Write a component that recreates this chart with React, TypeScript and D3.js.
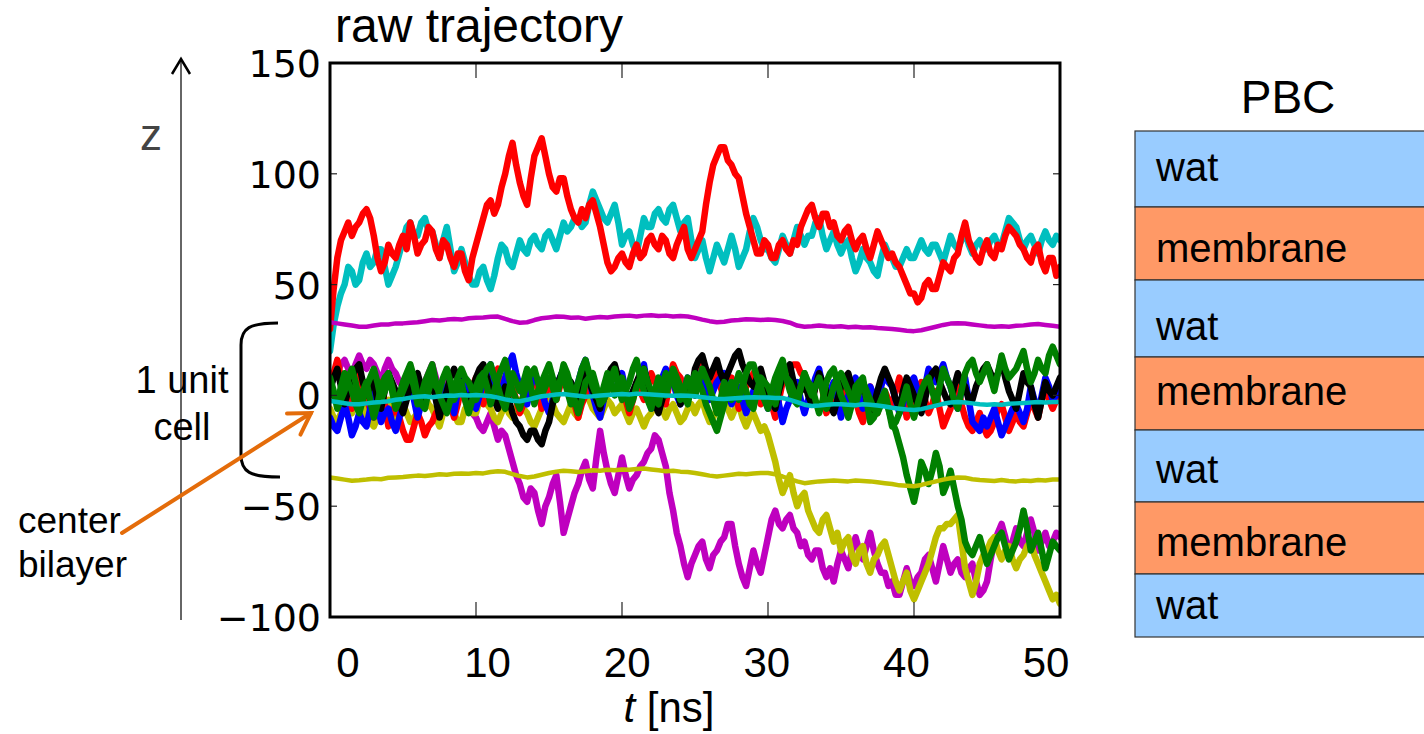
import * as d3 from 'd3';

// all trajectories run from t = 0 to t = 50 ns; the noisy ones are saved every
// 0.25 ns, the smoothed reference lines every 0.5 ns
const T_END = 50;

const redHigh = [
  30, 48, 62, 70, 74, 78, 72, 76, 78, 82, 84, 80, 72, 62, 56, 60, 68, 64, 62, 68,
  72, 66, 78, 72, 64, 68, 70, 76, 74, 66, 62, 70, 68, 62, 58, 64, 64, 56, 52, 62,
  68, 74, 80, 86, 88, 82, 86, 94, 100, 108, 114, 104, 96, 90, 86, 98, 108, 112, 116, 108,
  100, 94, 92, 98, 98, 90, 84, 80, 78, 84, 80, 86, 88, 82, 76, 68, 60, 56, 58, 62,
  64, 60, 58, 64, 68, 62, 64, 70, 72, 68, 66, 72, 70, 64, 62, 68, 72, 76, 66, 62,
  66, 70, 74, 86, 96, 104, 108, 112, 112, 106, 104, 100, 98, 90, 82, 76, 70, 64, 64, 70,
  68, 62, 62, 68, 70, 66, 64, 70, 68, 76, 80, 84, 86, 80, 76, 82, 82, 76, 78, 72,
  70, 74, 76, 70, 66, 70, 72, 66, 62, 68, 74, 70, 66, 62, 64, 60, 58, 54, 50, 46,
  46, 42, 44, 50, 52, 48, 48, 54, 60, 58, 56, 62, 64, 72, 78, 70, 66, 62, 60, 66,
  70, 64, 62, 68, 66, 72, 76, 74, 72, 68, 66, 62, 60, 66, 68, 60, 56, 62, 62, 54,
  58,
];

const cyanHigh = [
  20, 32, 40, 46, 50, 58, 56, 50, 52, 60, 64, 58, 60, 66, 66, 58, 50, 54, 58, 64,
  70, 76, 78, 72, 72, 78, 80, 74, 74, 68, 62, 70, 76, 66, 56, 60, 66, 60, 54, 50,
  50, 56, 58, 52, 48, 54, 62, 68, 66, 60, 58, 64, 70, 66, 64, 70, 72, 68, 66, 72,
  74, 70, 66, 72, 78, 74, 76, 80, 80, 76, 78, 86, 92, 88, 84, 80, 78, 82, 86, 78,
  68, 72, 74, 68, 64, 72, 80, 76, 76, 82, 84, 80, 78, 84, 86, 80, 74, 78, 80, 70,
  62, 66, 70, 62, 56, 62, 68, 64, 60, 66, 72, 66, 58, 62, 66, 74, 80, 76, 70, 66,
  66, 62, 60, 66, 72, 68, 64, 70, 76, 72, 68, 72, 72, 78, 80, 72, 66, 70, 74, 68,
  64, 68, 70, 62, 56, 60, 66, 62, 60, 56, 54, 62, 68, 64, 62, 58, 58, 62, 66, 62,
  62, 66, 70, 66, 64, 68, 68, 64, 60, 66, 72, 68, 66, 70, 74, 68, 64, 68, 70, 66,
  66, 70, 72, 68, 68, 74, 80, 78, 76, 70, 66, 70, 72, 68, 64, 70, 74, 70, 68, 72,
  70,
];

const magentaNoisy = [
  4, 8, 10, 14, 16, 12, 8, 14, 18, 14, 12, 16, 14, 10, 6, 12, 16, 12, 10, 6,
  4, 2, 8, 4, -2, 2, 6, 10, 14, 8, 2, 6, 8, 2, -4, 0, 2, -2, -6, -8,
  -10, -14, -16, -12, -8, -14, -20, -16, -18, -24, -30, -36, -40, -46, -48, -42, -44, -52, -58, -50,
  -46, -40, -36, -48, -62, -56, -50, -44, -40, -34, -30, -38, -42, -28, -16, -26, -34, -40, -44, -36,
  -28, -36, -42, -38, -36, -32, -30, -26, -24, -18, -20, -26, -32, -44, -52, -62, -68, -76, -82, -76,
  -72, -68, -66, -74, -78, -72, -70, -66, -64, -58, -58, -68, -76, -82, -86, -78, -70, -76, -80, -72,
  -64, -56, -52, -58, -60, -56, -54, -60, -62, -68, -66, -72, -74, -70, -70, -78, -82, -78, -84, -76,
  -70, -74, -78, -70, -64, -70, -74, -68, -62, -70, -76, -80, -80, -86, -84, -90, -90, -84, -78, -84,
  -86, -82, -80, -74, -72, -78, -84, -76, -68, -74, -80, -76, -74, -80, -82, -78, -76, -84, -90, -88,
  -84, -74, -66, -62, -58, -64, -72, -66, -60, -66, -68, -62, -56, -62, -70, -66, -62, -68, -66, -62,
  -64,
];

const yellowNoisy = [
  -6, -10, -12, -8, -4, -6, -8, -2, 2, -4, -10, -12, -14, -10, -6, -4, -2, -8, -10, -6,
  -4, -8, -12, -10, -8, -2, 0, -4, -6, -10, -14, -8, -2, -6, -8, -12, -12, -6, -4, -8,
  -8, -2, 2, -4, -6, -10, -12, -8, -4, -8, -10, -6, -2, -6, -8, -12, -14, -10, -6, -2,
  0, -4, -8, -10, -12, -8, -4, -8, -10, -2, 4, -2, -6, -8, -10, -6, -2, -4, -8, -6,
  -4, -8, -12, -8, -6, -10, -14, -10, -8, -4, -2, -6, -10, -6, -4, -8, -12, -10, -6, -4,
  -8, -4, -2, -8, -12, -10, -6, -2, 0, -6, -10, -6, -4, -10, -14, -10, -8, -12, -16, -14,
  -18, -24, -30, -38, -44, -40, -36, -44, -50, -46, -44, -52, -56, -60, -62, -56, -54, -60, -66, -62,
  -70, -66, -64, -72, -76, -70, -68, -76, -80, -74, -72, -68, -66, -72, -78, -84, -88, -84, -80, -88,
  -92, -88, -84, -80, -76, -70, -64, -60, -60, -58, -58, -56, -54, -66, -78, -84, -90, -84, -76, -72,
  -70, -66, -64, -70, -74, -70, -68, -74, -78, -74, -72, -68, -66, -72, -76, -80, -84, -88, -92, -90,
  -94,
];

const greenDrop = [
  6, 0, -4, 4, 10, 6, 2, -4, -8, -2, 4, 8, 12, 6, -2, 2, 8, 2, -6, -2,
  2, 6, 10, 4, -4, 0, 6, 10, 14, 6, 0, -4, -8, -2, 4, 8, 12, 8, 6, 2,
  -2, 2, 8, 12, 14, 8, 4, -2, -6, 2, 10, 6, 2, 6, 12, 4, -4, 2, 6, 10,
  14, 8, 2, 6, 8, 2, -4, 0, 6, 12, 16, 10, 4, 0, -2, 4, 10, 6, 0, 4,
  8, 2, -6, -2, 4, 8, 12, 6, 2, -2, -4, 4, 10, 8, 6, 2, -2, 2, 8, 4,
  0, 6, 12, 8, 4, -2, -8, -2, 6, 2, -2, 4, 10, 6, 2, -4, -6, 2, 8, 6,
  4, 0, -4, 4, 12, 8, 6, 2, -2, 4, 10, 4, 0, 4, 8, 2, -6, -2, 4, 8,
  10, 6, 2, -2, -4, 2, 6, 2, -2, -6, -8, -4, 0, -6, -12, -16, -22, -28, -36, -42,
  -48, -40, -30, -34, -40, -34, -26, -32, -44, -40, -34, -42, -50, -56, -66, -70, -72, -68, -64, -70,
  -76, -72, -68, -64, -62, -68, -74, -70, -66, -60, -52, -60, -70, -66, -62, -70, -78, -72, -66, -68,
  -70,
];

const greenMain = [
  8, 2, -6, -2, 2, 8, 12, 6, -2, 2, 6, -2, -10, -4, 4, 8, 10, 4, -4, 0,
  6, 10, 14, 8, 0, -4, -6, 2, 8, 4, 2, 8, 12, 6, -2, 2, 6, -2, -8, -2,
  4, 8, 10, 4, -4, 2, 8, 12, 16, 8, 2, -2, -6, 0, 6, 10, 12, 6, 0, 4,
  8, 4, -2, 6, 14, 10, 4, -2, -8, -2, 6, 8, 10, 4, -4, -2, 2, 8, 12, 4,
  -2, 2, 6, 12, 16, 8, 2, -2, -6, 2, 8, 4, 0, 6, 12, 8, 4, 0, -4, 4,
  10, 6, 2, -4, -8, -12, -16, -10, -4, 2, 6, 2, -2, 4, 10, 14, 14, 8, 4, -2,
  -6, 2, 8, 12, 16, 8, 2, -2, -4, 4, 10, 6, 4, -2, -8, -2, 6, 10, 12, 6,
  0, -4, -10, -4, 4, 6, 8, -2, -12, -10, -6, -2, 2, -6, -14, -12, -8, -2, 4, -4,
  -10, -4, 2, 6, 8, 2, -4, 4, 12, 8, 4, -2, -6, 2, 10, 14, 16, 10, 6, 10,
  14, 8, 2, 10, 18, 12, 8, 10, 12, 16, 20, 12, 6, 10, 16, 12, 10, 18, 22, 18,
  14,
];

const blueMain = [
  -10, -14, -16, -10, -4, -10, -18, -14, -8, -12, -14, -6, 2, -4, -12, -8, -6, -12, -16, -10,
  -4, 2, 8, -2, -10, -4, 2, 8, 12, 4, -6, -2, 4, -2, -8, 2, 10, 4, 0, -4,
  -6, 0, 6, 10, 14, 6, -2, 2, 8, 14, 18, 10, 4, 0, -4, 4, 10, 6, 2, -4,
  -8, -2, 4, 8, 12, 4, -2, 2, 6, 12, 16, 8, 0, -6, -10, -2, 6, 4, 2, 6,
  10, 2, -4, 0, 4, 10, 14, 4, -6, -2, 2, 8, 12, 8, 6, 0, -4, 2, 8, 4,
  0, 6, 12, 4, -2, 2, 6, 8, 10, 2, -4, 0, 4, -2, -8, -4, 2, 6, 8, 0,
  -6, -2, 4, -4, -12, -6, -2, 2, 6, -2, -8, -2, 2, 8, 12, 4, -4, 2, 6, -2,
  -10, -4, 0, 4, 8, 0, -6, -2, 4, 0, -2, 4, 10, 6, 4, -2, -8, -4, 2, 6,
  8, 2, -4, 4, 12, 8, 6, 10, 14, 8, 4, -2, -6, 2, 8, -2, -12, -14, -16, -10,
  -14, -10, -6, -12, -18, -14, -10, -6, -4, -8, -12, -6, 4, -2, -8, 0, 8, 4, -2, 0,
  2,
];

const blackMain = [
  2, 8, 12, 4, -4, 2, 8, 12, 14, 6, 0, 4, 6, -2, -6, 2, 10, 6, 2, -4,
  -8, -2, 4, 8, 10, 4, -2, 2, 6, -2, -10, -4, 2, 8, 12, 8, 4, 0, -4, 2,
  8, 12, 14, 8, 2, -2, -6, 0, 4, -2, -8, -12, -14, -18, -20, -16, -16, -20, -22, -16,
  -12, -4, 4, 8, 12, 8, 6, 2, -2, 4, 10, 6, 2, -2, -6, 2, 8, 12, 14, 8,
  4, 0, -2, 2, 6, 10, 12, 6, 0, -4, -8, -2, 4, 8, 10, 4, -4, 0, 6, 2,
  12, 16, 18, 12, 8, 12, 16, 10, 6, 10, 14, 18, 20, 14, 10, 6, 4, 8, 12, 6,
  2, -2, -6, 2, 8, 12, 14, 6, 0, 2, 6, 0, -4, 4, 10, 6, 2, -4, -8, -2,
  4, 8, 10, 4, -2, 2, 6, -2, -8, -4, 2, 8, 12, 8, 4, -2, -6, 2, 8, 4,
  0, -4, -8, -2, 6, 10, 12, 6, 2, -2, -4, 4, 10, 6, 4, -2, -2, 4, 8, 12,
  14, 10, 6, 10, 16, 8, 2, -2, -6, 2, 10, 6, 4, -4, -10, -2, 6, 2, 0, 4,
  8,
];

const redLow = [
  4, 10, 16, 8, 2, -2, -6, 2, 10, 4, -2, -6, -10, -2, 6, -4, -14, -8, -4, -10,
  -16, -20, -20, -14, -8, -12, -18, -14, -12, -8, -6, -2, 2, -4, -10, -4, 4, 0, -2, 4,
  8, 2, -4, 2, 6, 10, 12, 4, -2, 0, 4, -2, -8, -4, 2, 6, 10, 2, -6, 0,
  6, 2, -2, 4, 10, 6, 4, -4, -10, -4, 0, 4, 8, 2, -6, -2, 2, 8, 12, 8,
  4, -2, -8, -2, 6, 2, -2, 4, 10, 6, 2, -2, -4, 6, 14, 10, 8, 4, 0, 2,
  6, 12, 16, 10, 4, 8, 12, 4, -2, 2, 8, 2, -6, -2, 4, 6, 10, 2, -4, -2,
  2, -4, -10, -2, 6, 10, 12, 14, 14, 10, 8, 2, -2, 4, 10, 2, -8, -4, 4, 0,
  -6, 0, 6, 2, -2, -8, -12, -4, 4, -2, -8, -2, 2, -2, -4, 2, 8, 0, -10, -6,
  -4, 2, 6, -2, -8, -4, 2, -6, -14, -10, -6, 0, 4, -4, -10, -14, -16, -12, -8, -14,
  -18, -16, -12, -6, -4, -10, -16, -12, -8, -12, -14, -8, -2, -6, -10, -2, 4, -2, -6, -2,
  0,
];

const magentaSmooth = [
  33, 32.5, 32, 31.5, 31, 31, 31.5, 32, 32, 32.5,
  32.5, 32.8, 33, 33.5, 34, 33.8, 34.2, 34.5, 34.2, 34.8,
  35, 35.2, 35.5, 35.6, 34.5, 33.5, 32.8, 33, 34, 34.8,
  35.2, 35.6, 35.5, 35, 35.2, 34.6, 35, 35.4, 35.2, 35.6,
  35.8, 36, 35.6, 36, 36.2, 35.8, 36, 35.6, 35.8, 35.6,
  35, 34.2, 33.5, 33, 33.2, 33.8, 34, 34.4, 34.2, 34,
  34.2, 34, 33.6, 32.8, 31.5, 31, 31.2, 31.5, 31.2, 31,
  31.2, 30.8, 31, 30.6, 30.8, 30.4, 30.2, 30, 29.6, 29.2,
  29, 29.4, 30.2, 31, 31.8, 32.4, 32.6, 32.4, 32, 31.6,
  31.2, 31, 31.2, 31, 31.4, 31.6, 32, 32.2, 31.8, 31.4,
  31,
];

const yellowSmooth = [
  -37, -37.5, -38, -38.5, -38.3, -38, -37.6, -37.8, -37.2, -37,
  -36.8, -36.5, -36.2, -36.4, -36, -35.6, -35.8, -35.4, -35.2, -35.4,
  -35, -35.2, -34.6, -34.2, -34.5, -35.5, -36.4, -37, -36.6, -35.8,
  -35, -34.4, -34, -34.2, -34.6, -34.2, -33.8, -34, -33.6, -33.8,
  -33.4, -33.6, -33.2, -33, -33.4, -33.8, -34.2, -34, -34.4, -34.6,
  -35, -35.6, -36.2, -36.6, -36.2, -35.8, -35.4, -35.6, -35.2, -35,
  -35, -35.6, -36.6, -37.8, -38.8, -39.6, -39.2, -38.8, -38.6, -38.4,
  -38.6, -38.8, -38.4, -38.6, -38.8, -39.2, -39.6, -40, -40.6, -40.8,
  -41, -40.4, -39.6, -38.8, -38, -37.4, -37, -37.2, -37.8, -38.2,
  -38.4, -38.6, -38.2, -38.6, -38.8, -38.4, -38.6, -38.2, -38.4, -38,
  -38,
];

const cyanSmooth = [
  -2.5, -3, -3.5, -4, -4, -3.6, -3.2, -3, -2.6, -2,
  -1.6, -1, -0.6, -0.4, -0.8, -0.4, 0, -0.2, 0.2, 0,
  0.2, 0, -0.4, -1, -1.8, -2.4, -2.6, -2, -1.2, -0.4,
  0, 0.4, 0.6, 0.2, -0.2, -0.6, -0.4, 0, 0.2, 0.4,
  0.6, 0.4, 0.8, 0.6, 0.4, 0.2, 0, -0.2, 0, -0.2,
  -0.4, -0.8, -1.2, -1.5, -1.6, -1.4, -1.2, -1, -0.8, -1,
  -1, -1.2, -1.2, -2, -3, -4.2, -4.8, -4.6, -4.2, -4,
  -4, -4.2, -4.4, -4, -4.2, -4.6, -5, -5.6, -6, -6.4,
  -6.6, -6.2, -5.4, -4.6, -3.8, -3.2, -3, -3.2, -3.6, -4,
  -4.2, -4, -4.2, -3.8, -3.6, -3.4, -3.2, -3, -3.2, -3,
  -3,
];

const xTicks = [0, 10, 20, 30, 40, 50];
const yTicks = [150, 100, 50, 0, -50, -100];
const pbcLayers = ['wat', 'membrane', 'wat', 'membrane', 'wat', 'membrane', 'wat'];

// drawing order: first is at the bottom
const series = [
  { values: magentaNoisy, color: '#bf00bf' },
  { values: yellowNoisy, color: '#bfbf00' },
  { values: redLow, color: '#ff0000' },
  { values: blueMain, color: '#0000ff' },
  { values: blackMain, color: '#000000' },
  { values: greenDrop, color: '#008000' },
  { values: greenMain, color: '#008000' },
  { values: cyanHigh, color: '#00bfbf' },
  { values: redHigh, color: '#ff0000' },
  { values: magentaSmooth, color: '#bf00bf' },
  { values: yellowSmooth, color: '#bfbf00' },
  { values: cyanSmooth, color: '#00bfbf' },
];

const SANS = '"Liberation Sans", Arial, sans-serif';
const DEJAVU = '"DejaVu Sans", sans-serif';

export default function App() {
  const plot = { left: 330, right: 1060, top: 63, bottom: 617 };

  const x = d3.scaleLinear().domain([0, T_END]).range([plot.left, plot.right]);
  const y = d3.scaleLinear().domain([-100, 150]).range([plot.bottom, plot.top]);
  // the x tick labels sit slightly off their ticks in the original figure
  const xLabel = d3.scaleLinear().domain([0, T_END]).range([348, 1046]);

  const lineFor = (values: number[]) => {
    const dt = T_END / (values.length - 1);
    return d3
      .line<number>()
      .x((_, i) => x(i * dt))
      .y((d) => y(d))(values);
  };

  // PBC column
  const layerEdges = [131, 207, 280, 357, 430, 502, 574, 637];
  const layerBaselines = [181, 262, 340, 405, 483, 556, 619];

  // orange arrow to the bilayer centre
  const arrowFrom: [number, number] = [122, 533];
  const arrowTo: [number, number] = [311, 413];
  const ang = Math.atan2(arrowTo[1] - arrowFrom[1], arrowTo[0] - arrowFrom[0]);
  const headLen = 24;
  const head = [ang + Math.PI - 0.55, ang + Math.PI + 0.55].map((a) => [
    arrowTo[0] + headLen * Math.cos(a),
    arrowTo[1] + headLen * Math.sin(a),
  ]);

  return (
    <svg
      width={1424}
      height={734}
      style={{ position: 'absolute', left: 0, top: 0, background: '#fff' }}
    >
      <defs>
        <clipPath id="plot-clip">
          <rect
            x={plot.left}
            y={plot.top}
            width={plot.right - plot.left}
            height={plot.bottom - plot.top}
          />
        </clipPath>
      </defs>

      {/* title */}
      <text x={335} y={42} fontFamily={SANS} fontSize={48} fill="#000">
        raw trajectory
      </text>

      {/* trajectories */}
      <g clipPath="url(#plot-clip)">
        {series.map((s, i) => (
          <path
            key={i}
            d={lineFor(s.values) ?? ''}
            fill="none"
            stroke={s.color}
            strokeWidth={s.values.length > 101 ? 6.5 : 4.5}
            strokeLinejoin="round"
            strokeLinecap="round"
          />
        ))}
      </g>

      {/* ticks, mirrored on all four sides */}
      <g stroke="#222" strokeWidth={1.2}>
        {xTicks.map((t) => (
          <g key={t}>
            <line x1={x(t)} x2={x(t)} y1={plot.bottom} y2={plot.bottom - 15} />
            <line x1={x(t)} x2={x(t)} y1={plot.top} y2={plot.top + 15} />
          </g>
        ))}
        {yTicks.map((v) => (
          <g key={v}>
            <line x1={plot.left} x2={plot.left + 7} y1={y(v)} y2={y(v)} />
            <line x1={plot.right} x2={plot.right - 7} y1={y(v)} y2={y(v)} />
          </g>
        ))}
      </g>

      {/* frame */}
      <rect
        x={plot.left}
        y={plot.top}
        width={plot.right - plot.left}
        height={plot.bottom - plot.top}
        fill="none"
        stroke="#000"
        strokeWidth={3}
      />

      {/* tick labels */}
      {yTicks.map((v) => (
        <text
          key={v}
          x={321}
          y={y(v) + 14}
          textAnchor="end"
          fontFamily={DEJAVU}
          fontSize={38}
          fill="#000"
        >
          {v < 0 ? `\u2212${Math.abs(v)}` : v}
        </text>
      ))}
      {xTicks.map((t) => (
        <text
          key={t}
          x={xLabel(t)}
          y={677}
          textAnchor="middle"
          fontFamily={SANS}
          fontSize={42}
          fill="#000"
        >
          {t}
        </text>
      ))}
      <text x={669} y={722} textAnchor="middle" fontFamily={SANS} fontSize={42} fill="#000">
        <tspan fontStyle="italic">t</tspan> [ns]
      </text>

      {/* z axis sketch */}
      <line x1={181} x2={181} y1={60} y2={620} stroke="#333" strokeWidth={1.5} />
      <path d="M172,74 L181,59 L190,74" fill="none" stroke="#000" strokeWidth={2.5} />
      <text x={151} y={150} textAnchor="middle" fontFamily={SANS} fontSize={44} fill="#444">
        z
      </text>

      {/* unit cell bracket */}
      <path
        d="M278,323 C250,323 241,328 241,345 L241,455 C241,472 250,477 280,477"
        fill="none"
        stroke="#000"
        strokeWidth={3}
      />
      <text x={182} y={393} textAnchor="middle" fontFamily={SANS} fontSize={38} fill="#000">
        1 unit
      </text>
      <text x={182} y={440} textAnchor="middle" fontFamily={SANS} fontSize={38} fill="#000">
        cell
      </text>

      {/* centre bilayer annotation */}
      <text x={18} y={533} fontFamily={SANS} fontSize={37} fill="#000">
        center
      </text>
      <text x={18} y={577} fontFamily={SANS} fontSize={37} fill="#000">
        bilayer
      </text>
      <g stroke="#e46c0a" strokeWidth={4} fill="none" strokeLinecap="round">
        <line x1={arrowFrom[0]} y1={arrowFrom[1]} x2={arrowTo[0]} y2={arrowTo[1]} />
        <path
          d={`M${head[0][0]},${head[0][1]} L${arrowTo[0]},${arrowTo[1]} L${head[1][0]},${head[1][1]}`}
        />
      </g>

      {/* periodic boundary conditions column */}
      <text x={1288} y={113} textAnchor="middle" fontFamily={SANS} fontSize={46} fill="#000">
        PBC
      </text>
      {pbcLayers.map((name, i) => (
        <g key={i}>
          <rect
            x={1135}
            y={layerEdges[i]}
            width={300}
            height={layerEdges[i + 1] - layerEdges[i]}
            fill={name === 'wat' ? '#99ccff' : '#ff9966'}
            stroke="#333"
            strokeWidth={1.2}
          />
          <text x={1156} y={layerBaselines[i]} fontFamily={SANS} fontSize={40} fill="#000">
            {name}
          </text>
        </g>
      ))}
    </svg>
  );
}
